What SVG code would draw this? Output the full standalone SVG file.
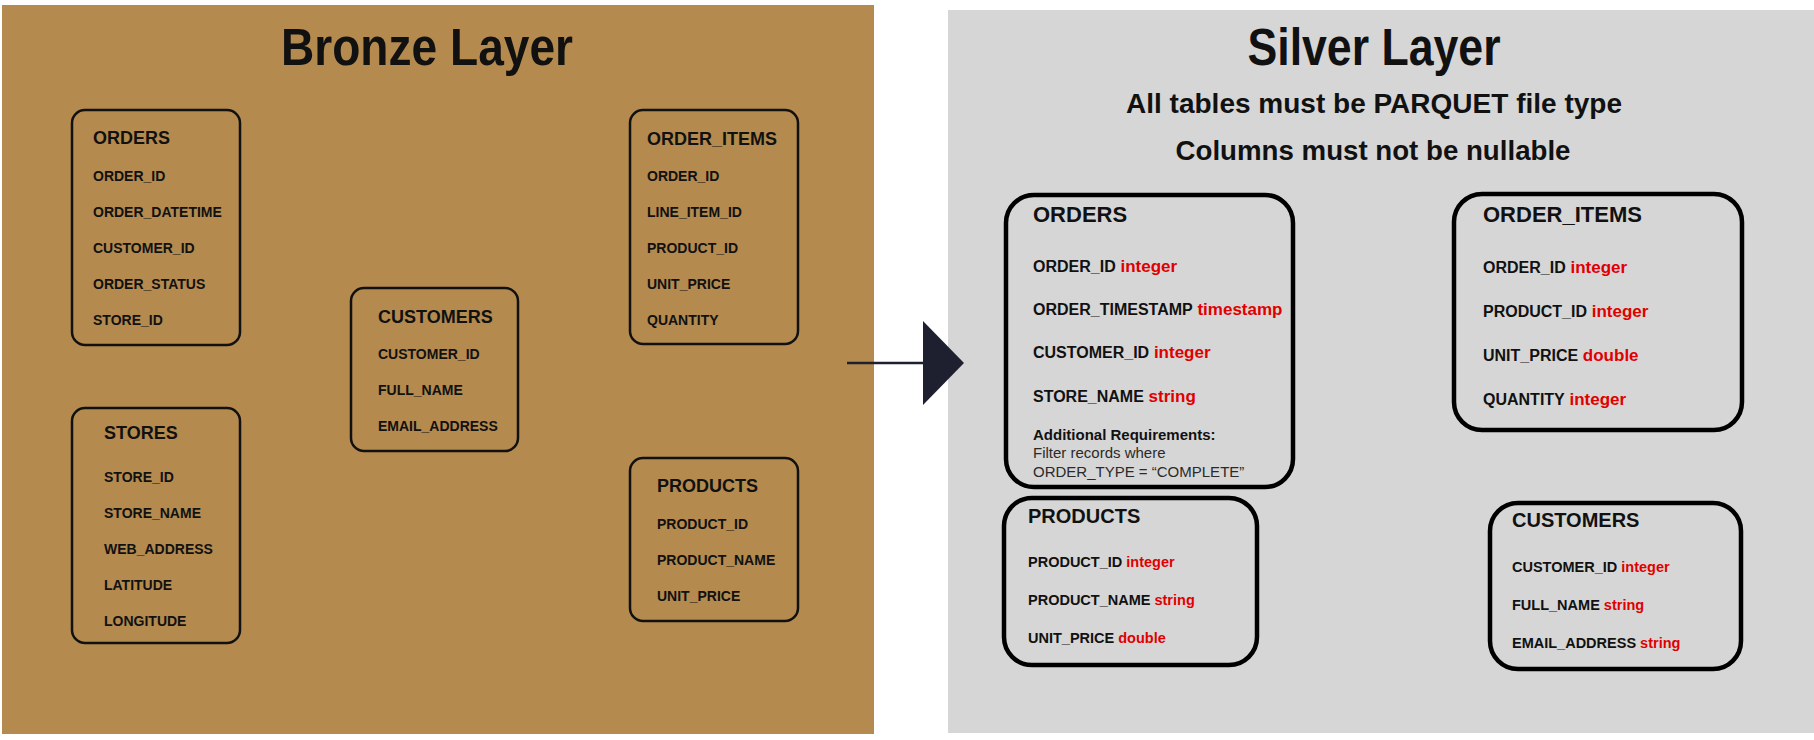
<svg xmlns="http://www.w3.org/2000/svg" width="1814" height="740" viewBox="0 0 1814 740">
<style>
  text { font-family: "Liberation Sans", Arial, sans-serif; fill: #111; }
  .title { font-size: 51px; font-weight: 700; text-anchor: middle; }
  .sub { font-size: 27px; font-weight: 700; text-anchor: middle; }
  .bbox { fill: none; stroke: #111; stroke-width: 2.5; }
  .sbox { fill: none; stroke: #000; stroke-width: 4.5; }
  .bt { font-size: 18px; font-weight: 700; }
  .bf { font-size: 14px; font-weight: 700; }
  .st { font-size: 22px; font-weight: 700; }
  .st2 { font-size: 20px; font-weight: 700; }
  .sf { font-size: 16px; font-weight: 700; }
  .sf2 { font-size: 14.5px; font-weight: 700; }
  .ty { fill: #E00000; font-size: 17px; }
  .ty2 { fill: #E00000; font-size: 14.5px; }
  .req { font-size: 15px; font-weight: 700; }
  .note { font-size: 15px; font-weight: 400; fill: #2a2a2a; }
</style>
<defs>
  <marker id="arrow" markerUnits="userSpaceOnUse" markerWidth="41" markerHeight="84" viewBox="0 0 41 84" refX="0" refY="42" orient="auto">
    <path d="M0,0 L41,42 L0,84 Z" fill="#1E2030"/>
  </marker>
</defs>
<rect width="1814" height="740" fill="#FFFFFF"/>
<g id="bronze-layer">
  <rect x="2" y="5" width="872" height="729" fill="#B48A4E"/>
  <text class="title" x="427" y="65" textLength="292" lengthAdjust="spacingAndGlyphs">Bronze Layer</text>
</g>
<g id="silver-layer">
  <rect x="948" y="10" width="866" height="723" fill="#D6D6D6"/>
  <text class="title" x="1374" y="65" textLength="253" lengthAdjust="spacingAndGlyphs">Silver Layer</text>
  <text class="sub" x="1374" y="113" textLength="496" lengthAdjust="spacingAndGlyphs">All tables must be PARQUET file type</text>
  <text class="sub" x="1373" y="160" textLength="395" lengthAdjust="spacingAndGlyphs">Columns must not be nullable</text>
</g>
<g id="bronze-orders">
  <rect class="bbox" x="72" y="110" width="168" height="235" rx="13"/>
  <text class="bt" x="93" y="144">ORDERS</text>
  <text class="bf" x="93" y="181">ORDER_ID</text>
  <text class="bf" x="93" y="217">ORDER_DATETIME</text>
  <text class="bf" x="93" y="253">CUSTOMER_ID</text>
  <text class="bf" x="93" y="289">ORDER_STATUS</text>
  <text class="bf" x="93" y="325">STORE_ID</text>
</g>
<g id="bronze-order-items">
  <rect class="bbox" x="630" y="110" width="168" height="234" rx="13"/>
  <text class="bt" x="647" y="145">ORDER_ITEMS</text>
  <text class="bf" x="647" y="181">ORDER_ID</text>
  <text class="bf" x="647" y="217">LINE_ITEM_ID</text>
  <text class="bf" x="647" y="253">PRODUCT_ID</text>
  <text class="bf" x="647" y="289">UNIT_PRICE</text>
  <text class="bf" x="647" y="325">QUANTITY</text>
</g>
<g id="bronze-customers">
  <rect class="bbox" x="351" y="288" width="167" height="163" rx="13"/>
  <text class="bt" x="378" y="323">CUSTOMERS</text>
  <text class="bf" x="378" y="359">CUSTOMER_ID</text>
  <text class="bf" x="378" y="395">FULL_NAME</text>
  <text class="bf" x="378" y="431">EMAIL_ADDRESS</text>
</g>
<g id="bronze-stores">
  <rect class="bbox" x="72" y="408" width="168" height="235" rx="13"/>
  <text class="bt" x="104" y="439">STORES</text>
  <text class="bf" x="104" y="482">STORE_ID</text>
  <text class="bf" x="104" y="518">STORE_NAME</text>
  <text class="bf" x="104" y="554">WEB_ADDRESS</text>
  <text class="bf" x="104" y="590">LATITUDE</text>
  <text class="bf" x="104" y="626">LONGITUDE</text>
</g>
<g id="bronze-products">
  <rect class="bbox" x="630" y="458" width="168" height="163" rx="13"/>
  <text class="bt" x="657" y="492">PRODUCTS</text>
  <text class="bf" x="657" y="529">PRODUCT_ID</text>
  <text class="bf" x="657" y="565">PRODUCT_NAME</text>
  <text class="bf" x="657" y="601">UNIT_PRICE</text>
</g>
<g id="connectors">
  <line x1="847" y1="363" x2="923" y2="363" stroke="#1E2030" stroke-width="2.5" marker-end="url(#arrow)"/>
</g>
<g id="silver-orders">
  <rect class="sbox" x="1006" y="195" width="287" height="292" rx="28"/>
  <text class="st" x="1033" y="222">ORDERS</text>
  <text class="sf" x="1033" y="272">ORDER_ID<tspan class="ty"> integer</tspan></text>
  <text class="sf" x="1033" y="315">ORDER_TIMESTAMP<tspan class="ty"> timestamp</tspan></text>
  <text class="sf" x="1033" y="358">CUSTOMER_ID<tspan class="ty"> integer</tspan></text>
  <text class="sf" x="1033" y="402">STORE_NAME<tspan class="ty"> string</tspan></text>
  <text class="req" x="1033" y="440">Additional Requirements:</text>
  <text class="note" x="1033" y="458">Filter records where</text>
  <text class="note" x="1033" y="477">ORDER_TYPE = “COMPLETE”</text>
</g>
<g id="silver-order-items">
  <rect class="sbox" x="1454" y="194" width="288" height="236" rx="28"/>
  <text class="st" x="1483" y="222">ORDER_ITEMS</text>
  <text class="sf" x="1483" y="273">ORDER_ID<tspan class="ty"> integer</tspan></text>
  <text class="sf" x="1483" y="317">PRODUCT_ID<tspan class="ty"> integer</tspan></text>
  <text class="sf" x="1483" y="361">UNIT_PRICE<tspan class="ty"> double</tspan></text>
  <text class="sf" x="1483" y="405">QUANTITY<tspan class="ty"> integer</tspan></text>
</g>
<g id="silver-products">
  <rect class="sbox" x="1004" y="498" width="253" height="167" rx="28"/>
  <text class="st2" x="1028" y="523">PRODUCTS</text>
  <text class="sf2" x="1028" y="567">PRODUCT_ID<tspan class="ty2"> integer</tspan></text>
  <text class="sf2" x="1028" y="605">PRODUCT_NAME<tspan class="ty2"> string</tspan></text>
  <text class="sf2" x="1028" y="643">UNIT_PRICE<tspan class="ty2"> double</tspan></text>
</g>
<g id="silver-customers">
  <rect class="sbox" x="1490" y="503" width="251" height="166" rx="28"/>
  <text class="st2" x="1512" y="527">CUSTOMERS</text>
  <text class="sf2" x="1512" y="572">CUSTOMER_ID<tspan class="ty2"> integer</tspan></text>
  <text class="sf2" x="1512" y="610">FULL_NAME<tspan class="ty2"> string</tspan></text>
  <text class="sf2" x="1512" y="648">EMAIL_ADDRESS<tspan class="ty2"> string</tspan></text>
</g>
</svg>
